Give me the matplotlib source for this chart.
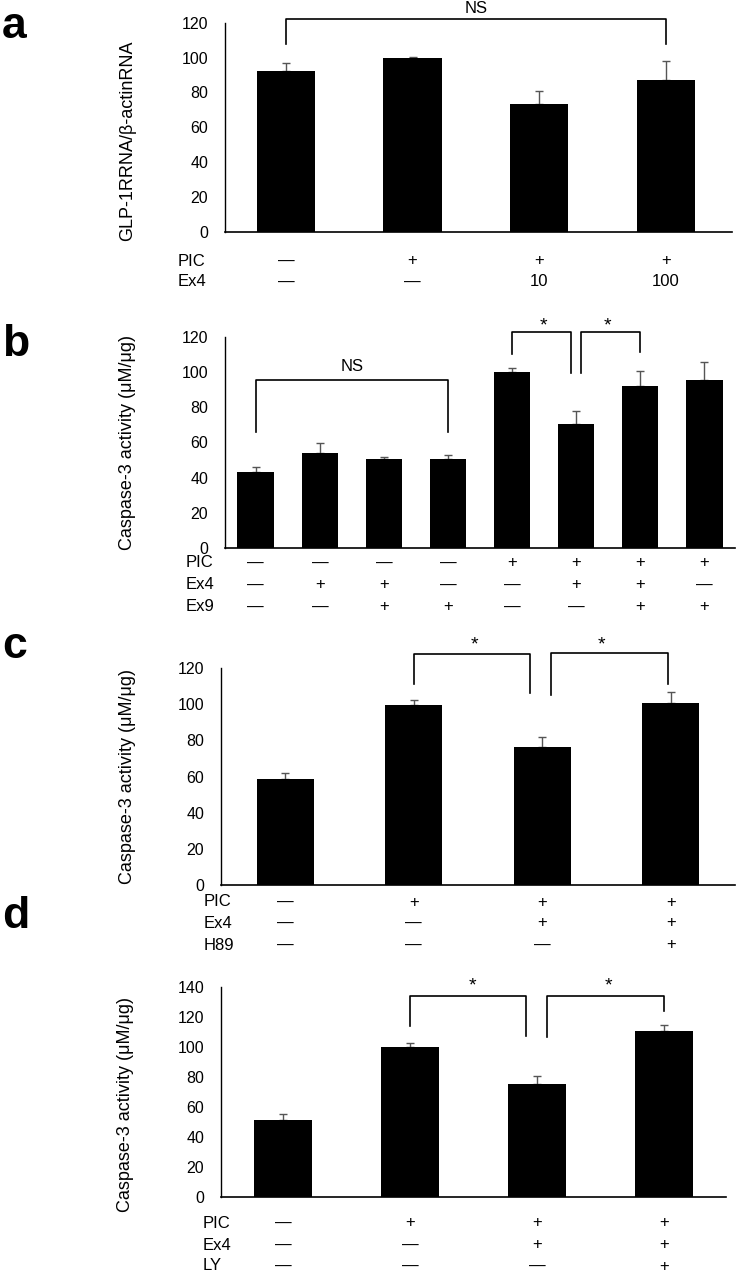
import numpy as np
import matplotlib
matplotlib.use("Agg")
import matplotlib.pyplot as plt

plt.rcParams['font.family'] = ['Liberation Sans', 'DejaVu Sans']

# ---- data ----
a_vals = [92.5, 100, 73.5, 87]
a_err = [4.6, 0.3, 7.6, 11]
a_rows = [("PIC", ["—", "+", "+", "+"]),
          ("Ex4", ["—", "—", "10", "100"])]

b_vals = [43.3, 53.9, 50.5, 50.7, 100.2, 70.7, 92.2, 95.7]
b_err = [2.5, 6.0, 1.1, 2.0, 2.4, 7.2, 8.7, 9.8]
b_rows = [("PIC", ["—", "—", "—", "—", "+", "+", "+", "+"]),
          ("Ex4", ["—", "+", "+", "—", "—", "+", "+", "—"]),
          ("Ex9", ["—", "—", "+", "+", "—", "—", "+", "+"])]

c_vals = [58.4, 99.8, 76.4, 100.9]
c_err = [3.7, 2.6, 5.2, 5.7]
c_rows = [("PIC", ["—", "+", "+", "+"]),
          ("Ex4", ["—", "—", "+", "+"]),
          ("H89", ["—", "—", "—", "+"])]

d_vals = [51.3, 100.2, 75.1, 110.9]
d_err = [4.0, 2.2, 5.6, 3.8]
d_rows = [("PIC", ["—", "+", "+", "+"]),
          ("Ex4", ["—", "—", "+", "+"]),
          ("LY", ["—", "—", "—", "+"])]

# brackets: (x_left, x_right, y_top, y_left_end, y_right_end, label, label_x, label_y)
a_brackets = [(0, 3, 122, 107.6, 108, "NS", 1.5, 128)]
b_brackets = [(0, 3, 95.8, 65.8, 65.8, "NS", 1.5, 103),
              (4, 4.92, 122.9, 110.6, 99.6, "*", 4.49, 126),
              (5.08, 6, 122.9, 99.6, 111.2, "*", 5.49, 126)]
c_brackets = [(1, 1.905, 128, 111.4, 105.9, "*", 1.47, 133),
              (2.07, 2.98, 128.4, 105, 111.4, "*", 2.46, 133)]
d_brackets = [(1, 1.91, 134, 114.2, 107.1, "*", 1.49, 141),
              (2.08, 3, 134, 106.7, 124, "*", 2.56, 141)]

W, H = 737, 1274
fig = plt.figure(figsize=(W / 100, H / 100), dpi=100)


def px_axes(left, top, right, bottom):
    return fig.add_axes([left / W, 1 - bottom / H, (right - left) / W, (bottom - top) / H])


def draw_panel(ax, vals, errs, rows, brackets, ymax, xlim, width, row_offsets, name_dx, ylabel, ylab_xy):
    x = np.arange(len(vals))
    ax.bar(x, vals, width=width, color='black', zorder=2)
    ax.errorbar(x, vals, yerr=[np.zeros(len(vals)), errs], fmt='none', ecolor='#555555',
                elinewidth=1, capsize=3, capthick=1, zorder=1)
    ax.set_xlim(*xlim)
    ax.set_ylim(0, ymax)
    ax.set_yticks(np.arange(0, ymax + 1, 20))
    ax.set_xticks([])
    ax.tick_params(axis='y', length=0, pad=12, labelsize=11.5)
    for s in ['top', 'right']:
        ax.spines[s].set_visible(False)
    ax.spines['left'].set_linewidth(1.0)
    ax.spines['bottom'].set_linewidth(1.2)

    for (name, marks), off in zip(rows, row_offsets):
        ax.annotate(name, xy=(0, 0), xycoords='axes fraction', xytext=(name_dx * 0.72, -off * 0.72),
                    textcoords='offset points', ha='left', va='center', fontsize=12)
        for xi, m in zip(x, marks):
            ax.annotate(m, xy=(xi, 0), xycoords=('data', 'axes fraction'), xytext=(0, -off * 0.72),
                        textcoords='offset points', ha='center', va='center', fontsize=12)

    for x1, x2, yt, yl, yr, lab, lx, ly in brackets:
        ax.plot([x1, x1, x2, x2], [yl, yt, yt, yr], color='black', lw=1.2, clip_on=False)
        fs = 14 if lab == "*" else 12
        ax.text(lx, ly, lab, ha='center', va='center', fontsize=fs, clip_on=False)

    fig.text(ylab_xy[0] / W, 1 - ylab_xy[1] / H, ylabel, rotation=90, ha='center', va='center', fontsize=13)


ax_a = px_axes(225, 22.7, 732, 232)
draw_panel(ax_a, a_vals, a_err, a_rows, a_brackets, 120, (-0.48, 3.52), 0.46,
           [29, 50], -47, "GLP-1RRNA/β-actinRNA", (128, 141))

ax_b = px_axes(225, 337, 735, 548)
draw_panel(ax_b, b_vals, b_err, b_rows, b_brackets, 120, (-0.48, 7.48), 0.57,
           [15, 37, 59], -39, "Caspase-3 activity (μM/μg)", (127, 443))

ax_c = px_axes(221, 668, 735, 885)
draw_panel(ax_c, c_vals, c_err, c_rows, c_brackets, 120, (-0.5, 3.5), 0.44,
           [17, 38, 60], -17, "Caspase-3 activity (μM/μg)", (128, 777))

ax_d = px_axes(221, 987, 726, 1197)
draw_panel(ax_d, d_vals, d_err, d_rows, d_brackets, 140, (-0.49, 3.49), 0.46,
           [26, 48, 69], -18, "Caspase-3 activity (μM/μg)", (126, 1105))

# panel letters
for letter, (lx, ly) in zip("abcd", [(2, 27), (2, 344), (2, 646), (2, 917)]):
    fig.text(lx / W, 1 - ly / H, letter, fontsize=32, fontweight='bold', ha='left', va='center')

fig.savefig("out.png", dpi=100)
